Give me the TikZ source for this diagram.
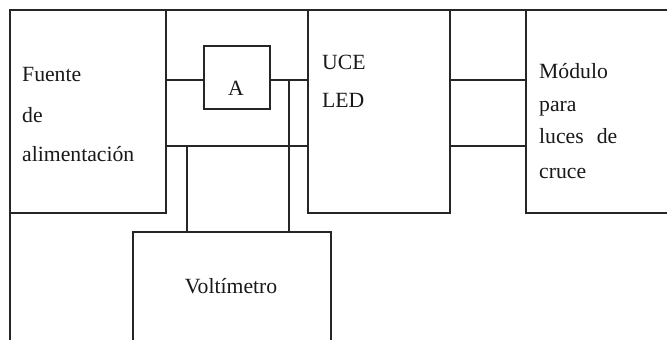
\documentclass[tikz,border=0pt]{standalone}
\usepackage{fontspec}
\setmainfont{Liberation Serif}
\begin{document}
\begin{tikzpicture}[x=1pt,y=-1pt,
  box/.style={draw=black!85, line width=1.9pt, rectangle, inner sep=0pt, anchor=north west},
  wire/.style={draw=black!85, line width=1.9pt},
  lbl/.style={anchor=base west, inner sep=0pt, text=black!90, font=\fontsize{21.7}{26}\selectfont}]
\useasboundingbox (0,0) rectangle (667,340);
\clip (0,0) rectangle (667,340);
% outer frame (cropped)
\node[box, minimum width=720pt, minimum height=420pt] (frame) at (9,9) {};
% boxes
\node[box, fill=white, minimum width=156pt, minimum height=203pt] (fuente) at (9,9) {};
\node[box, fill=white, minimum width=66pt, minimum height=63pt] (amp) at (203,45) {};
\node[box, fill=white, minimum width=142pt, minimum height=203pt] (uce) at (307,9) {};
\node[box, fill=white, minimum width=200pt, minimum height=203pt] (modulo) at (525,9) {};
\node[box, fill=white, minimum width=198pt, minimum height=140pt] (volt) at (132,231) {};
% connector coordinates
\coordinate (fa) at (165,80);
\coordinate (ab) at (289,80);
\coordinate (fb) at (165,146);
\coordinate (vb) at (187,146);
% connectors
\draw[wire] (fa) -- (amp.west |- fa);
\draw[wire] (amp.east |- fa) -- (uce.west |- fa);
\draw[wire] (fb) -- (uce.west |- fb);
\draw[wire] (uce.east |- fa) -- (modulo.west |- fa);
\draw[wire] (uce.east |- fb) -- (modulo.west |- fb);
\draw[wire] (vb) -- (volt.north -| vb);
\draw[wire] (ab) -- (volt.north -| ab);
% texts
\node[lbl] (t1) at (22,81) {Fuente};
\node[lbl] (t2) at (22,122) {de};
\node[lbl] (t3) at (22,161) {alimentación};
\node[lbl, anchor=base] (ta) at (236,95) {A};
\node[lbl] (t4) at (322,69) {UCE};
\node[lbl] (t5) at (322,107) {LED};
\node[lbl] (t6) at (539,78) {Módulo};
\node[lbl] (t7) at (539,111) {para};
\node[lbl] (t8) at (539,143) {luces\hspace{0.6em}de};
\node[lbl] (t9) at (539,178) {cruce};
\node[lbl, anchor=base] (tv) at (231,293) {Voltímetro};
\end{tikzpicture}
\end{document}
